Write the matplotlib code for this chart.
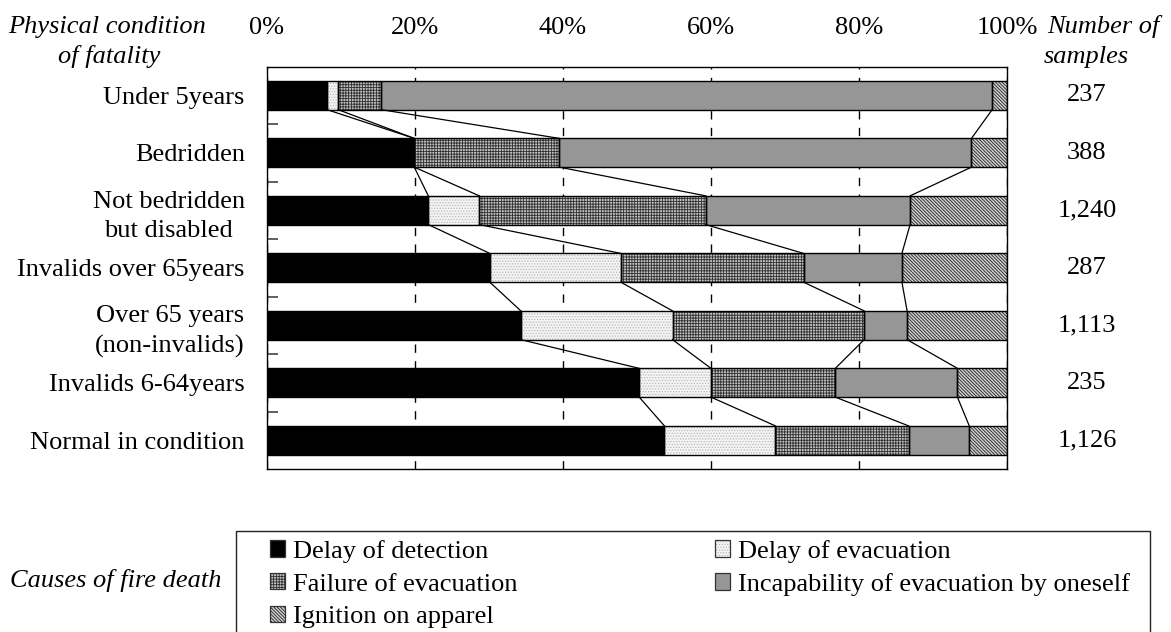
import numpy as np
import matplotlib.pyplot as plt
from matplotlib.patches import Patch, Rectangle
from matplotlib.legend_handler import HandlerTuple
from matplotlib.transforms import blended_transform_factory

plt.rcParams['font.family'] = ['Liberation Serif', 'DejaVu Serif']
plt.rcParams['hatch.linewidth'] = 0.6

# data (percent of fatalities per condition)
conditions = ['Under 5years', 'Bedridden', 'Not bedridden\nbut disabled',
              'Invalids over 65years', 'Over 65 years\n(non-invalids)',
              'Invalids 6-64years', 'Normal in condition']
samples = ['237', '388', '1,240', '287', '1,113', '235', '1,126']
causes = ['Delay of detection', 'Delay of evacuation', 'Failure of evacuation',
          'Incapability of evacuation by oneself', 'Ignition on apparel']
detection = [8.1, 19.9, 21.8, 30.1, 34.3, 50.3, 53.7]
evacuation_delay = [1.5, 0.0, 6.9, 17.7, 20.5, 9.7, 15.0]
evacuation_failure = [5.8, 19.6, 30.6, 24.7, 25.9, 16.8, 18.0]
incapability = [82.6, 55.7, 27.6, 13.3, 5.8, 16.5, 8.2]
ignition = [2.0, 4.8, 13.1, 14.2, 13.5, 6.7, 5.1]
xticks = [0, 20, 40, 60, 80, 100]

series = [detection, evacuation_delay, evacuation_failure, incapability, ignition]
# (facecolor, hatch, hatch colour)
styles = [('black', None, 'black'),
          ('#f4f4f4', '......', '#b8b8b8'),
          ('#c0c0c0', '++++++', '#303030'),
          ('#969696', None, 'black'),
          ('#d0d0d0', '\\' * 10, '#202020')]

W, H = 1171, 632
fig = plt.figure(figsize=(W / 100, H / 100), dpi=100)
ax = fig.add_axes([267 / W, 1 - 469 / H, 740 / W, 402.5 / H])

y = np.arange(len(conditions))
bar_h = 0.5
left = np.zeros(len(conditions))
handles = []
for vals, (fc, hatch, hc) in zip(series, styles):
    vals = np.array(vals)
    ax.barh(y, vals, left=left, height=bar_h, color=fc, hatch=hatch,
            edgecolor=hc, linewidth=0, zorder=2)
    ax.barh(y, vals, left=left, height=bar_h, fill=False,
            edgecolor='black', linewidth=1.0, zorder=3)
    left = left + vals
    handles.append((Patch(facecolor=fc, hatch=hatch, edgecolor=hc, linewidth=0),
                    Patch(fill=False, edgecolor='#333333', linewidth=0.9)))

# connecting lines between successive bars
cum = np.cumsum(np.array(series), axis=0)
for k in range(len(series) - 1):
    for i in range(len(conditions) - 1):
        ax.plot([cum[k, i], cum[k, i + 1]], [i + bar_h / 2, i + 1 - bar_h / 2],
                color='black', linewidth=0.9, zorder=4)

ax.set_xlim(0, 100)
ax.set_ylim(len(conditions) - 0.5, -0.5)
ax.xaxis.tick_top()
ax.set_xticks(xticks, [f'{t}%' for t in xticks], fontsize=19)
ax.tick_params(axis='x', length=0, pad=20)
ax.grid(axis='x', color='black', linestyle=(0, (6, 6)), linewidth=1.0)
ax.set_axisbelow(True)

ax.set_yticks(y, conditions, fontsize=19, multialignment='center',
              linespacing=1.45)
ax.tick_params(axis='y', which='major', length=0, pad=16)
ax.set_yticks(y[:-1] + 0.5, minor=True)
ax.tick_params(axis='y', which='minor', direction='in', length=8, width=1.2,
               color='#444444')
for s in ax.spines.values():
    s.set_linewidth(1.0)

tr = blended_transform_factory(ax.transAxes, ax.transData)
for i, n in enumerate(samples):
    ax.text(1.108, i, n, transform=tr, ha='center', va='center', fontsize=19)

fig.text(107 / W, 1 - 27 / H, 'Physical condition', ha='center', va='center',
         fontsize=19, style='italic')
fig.text(109 / W, 1 - 57 / H, 'of fatality', ha='center', va='center',
         fontsize=19, style='italic')
fig.text(1103 / W, 1 - 27 / H, 'Number of', ha='center', va='center',
         fontsize=19, style='italic')
fig.text(1086 / W, 1 - 57 / H, 'samples', ha='center', va='center',
         fontsize=19, style='italic')
fig.text(10 / W, 1 - 580 / H, 'Causes of fire death', ha='left', va='center',
         fontsize=19, style='italic')

# legend box runs off the bottom of the figure
fig.add_artist(Rectangle((236 / W, -0.1), (1150 - 236) / W, 0.1 + 1 - 531 / H,
                         transform=fig.transFigure, fill=False,
                         edgecolor='#222222', linewidth=1.0))
order = [0, 2, 4, 1, 3]
fig.legend([handles[i] for i in order], [causes[i] for i in order],
           handler_map={tuple: HandlerTuple(ndivide=1, pad=0)},
           loc='upper left', bbox_to_anchor=(270 / W, 1 - 540 / H),
           ncol=2, frameon=False, fontsize=19, borderpad=0, borderaxespad=0,
           handlelength=0.58, handleheight=0.58, handletextpad=0.28,
           labelspacing=0.38, columnspacing=7.5)

fig.savefig('out.png', dpi=100)
